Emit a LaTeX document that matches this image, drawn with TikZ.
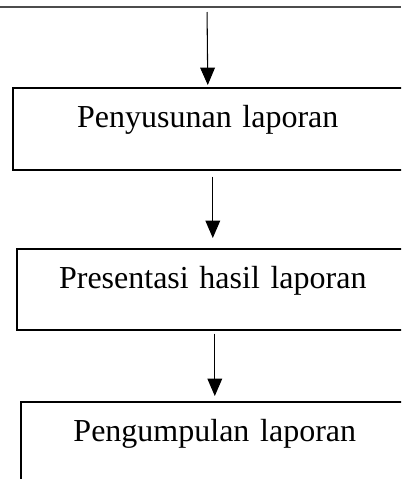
\documentclass[tikz,border=0pt]{standalone}
\usepackage{fontspec}
\setmainfont{Liberation Serif}
\usetikzlibrary{arrows.meta}
\begin{document}
\begin{tikzpicture}[x=0.75pt,y=-0.75pt,
  stepbox/.style={draw, line width=1.2pt, rectangle, inner xsep=0pt, inner ysep=0pt,
    anchor=north west, align=center, text height=30pt, font=\fontsize{24}{28}\selectfont},
  flow/.style={line width=0.8pt, -{Triangle[length=13pt,width=11pt]}}]
\path[use as bounding box] (0,0) rectangle (401,479);
\clip (0,0) rectangle (401,479);
\draw[line width=1.4pt, black!70] (0,7) coordinate (tl) -- (401,7) coordinate (tr);
\node[stepbox, minimum width=292.5pt, text width=292.5pt, text depth=31.5pt]
  (b1) at (12,87) {Penyusunan laporan};
\node[stepbox, minimum width=294pt, text width=294pt, text depth=30.75pt]
  (b2) at (16,248) {Presentasi hasil laporan};
\node[stepbox, minimum width=291pt, text width=291pt, text depth=31.5pt]
  (b3) at (20,401) {Pengumpulan laporan};
\coordinate (a0) at (207,7);
\draw[flow, shorten <=3.75pt, shorten >=1.5pt] (a0) -- (b1.north);
\draw[flow, shorten <=4.5pt, shorten >=7.5pt] (b1.south -| b2.north) -- (b2.north);
\draw[flow, shorten <=2.25pt, shorten >=3.75pt] (b2.south -| b3.north) -- (b3.north);
\end{tikzpicture}
\end{document}
